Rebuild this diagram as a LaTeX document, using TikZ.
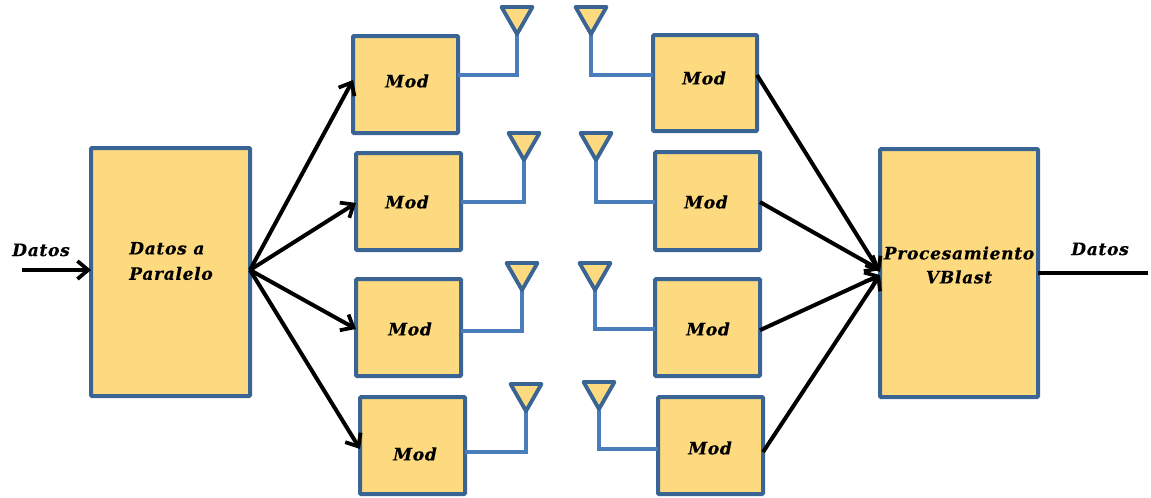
\documentclass[tikz,border=0pt]{standalone}
\usepackage{fontspec}
\setmainfont{DejaVu Serif}[LetterSpace=4,BoldItalicFeatures={FakeBold=0.3}]
\usetikzlibrary{arrows.meta}
\definecolor{boxfill}{HTML}{FDDA80}
\definecolor{boxline}{HTML}{3A6494}
\definecolor{wire}{HTML}{4A7EBB}
\tikzset{
  x=0.75pt,y=-0.75pt,
  boxnode/.style={draw=boxline,fill=boxfill,line width=3pt,rounded corners=0.8pt,inner sep=0pt,outer sep=0pt},
  lbl/.style={font=\fontsize{12.8}{18}\selectfont\bfseries\itshape,align=center,inner sep=0pt,text=black},
  ant/.style={draw=boxline,fill=boxfill,line width=2.9pt,line join=round},
  wireline/.style={draw=wire,line width=2.4pt,line join=miter},
  arrowline/.style={draw=black,line width=3pt,-{Straight Barb[length=8pt,width=13.5pt,line width=2.8pt]}},
  plainline/.style={draw=black,line width=3pt}
}
% name, x0, y0, x1, y1
\newcommand{\blockbox}[5]{%
  \pgfmathsetmacro{\bw}{(#4-#2)*0.75}\pgfmathsetmacro{\bh}{(#5-#3)*0.75}%
  \node[boxnode,anchor=north west,minimum width=\bw pt,minimum height=\bh pt] (#1) at (#2,#3) {};}
% name, apex x, apex y
\newcommand{\antenna}[3]{%
  \coordinate (#1) at (#2,#3);
  \draw[ant] (#2,#3) -- ++(-15.5,-27) -- ++(31,0) -- cycle;}
\begin{document}
\begin{tikzpicture}
\useasboundingbox (0,0) rectangle (1151,497);
\coordinate (wa1) at (517,75);\coordinate (wb1) at (591,75);
\coordinate (wa2) at (524,202);\coordinate (wb2) at (596,202);
\coordinate (wa3) at (522,331);\coordinate (wb3) at (595,329);
\coordinate (wa4) at (526,452);\coordinate (wb4) at (599,449);
% big blocks
\blockbox{dp}{91}{148}{250}{396}
\blockbox{vb}{880}{149}{1038}{397}
% tx blocks
\blockbox{t1}{353}{36}{458}{133}
\blockbox{t2}{356}{153}{461}{250}
\blockbox{t3}{356}{279}{461}{376}
\blockbox{t4}{360}{397}{465}{494}
% rx blocks
\blockbox{r1}{653}{35}{757}{131}
\blockbox{r2}{655}{152}{760}{250}
\blockbox{r3}{655}{279}{760}{376}
\blockbox{r4}{658}{397}{763}{494}
% antenna apexes
\coordinate (ta1) at (517,34);\coordinate (tb1) at (591,34);
\coordinate (ta2) at (524,160);\coordinate (tb2) at (596,160);
\coordinate (ta3) at (522,290);\coordinate (tb3) at (595,290);
\coordinate (ta4) at (526,411);\coordinate (tb4) at (599,409);
% wires
\draw[wireline] (wa1 -| t1.east) -- (wa1) -- (ta1);
\draw[wireline] (tb1) -- (wb1) -- (wb1 -| r1.west);
\draw[wireline] (wa2 -| t2.east) -- (wa2) -- (ta2);
\draw[wireline] (tb2) -- (wb2) -- (wb2 -| r2.west);
\draw[wireline] (wa3 -| t3.east) -- (wa3) -- (ta3);
\draw[wireline] (tb3) -- (wb3) -- (wb3 -| r3.west);
\draw[wireline] (wa4 -| t4.east) -- (wa4) -- (ta4);
\draw[wireline] (tb4) -- (wb4) -- (wb4 -| r4.west);
% antennas
\antenna{aa1}{517}{34}\antenna{ab1}{591}{34}
\antenna{aa2}{524}{160}\antenna{ab2}{596}{160}
\antenna{aa3}{522}{290}\antenna{ab3}{595}{290}
\antenna{aa4}{526}{411}\antenna{ab4}{599}{409}
% labels
\node[lbl,align=left,font=\fontsize{12.8}{19}\selectfont\bfseries\itshape] (ldp) at (171,261) {Datos a\\Paralelo};
\node[lbl] (lvb) at (959,265) {Procesamiento\\VBlast};
\node[lbl] (lin) at (41,250) {Datos};
\node[lbl] (lout) at (1100,249) {Datos};
\node[lbl] (lt1) at (407,81) {Mod};
\node[lbl] (lt2) at (407,202) {Mod};
\node[lbl] (lt3) at (410,329) {Mod};
\node[lbl] (lt4) at (415,454) {Mod};
\node[lbl] (lr1) at (704,78) {Mod};
\node[lbl] (lr2) at (706,202) {Mod};
\node[lbl] (lr3) at (708,329) {Mod};
\node[lbl] (lr4) at (710,448) {Mod};
% connectors
\coordinate (src) at (22,270);
\coordinate (sink) at (1148,273);
\coordinate (fan) at (250,270);
\draw[arrowline] (src) -- (src -| dp.west);
\draw[arrowline] (fan) -- ([yshift=3.4pt]t1.west);
\draw[arrowline] (fan) -- ([yshift=-1.1pt]t2.west);
\draw[arrowline] (fan) -- ([yshift=-1.1pt]t3.west);
\draw[arrowline] (fan) -- ([yshift=-2.6pt]t4.west);
\coordinate (m1) at (880,272);
\coordinate (m2) at (880,270);
\coordinate (m3) at (880,275);
\draw[arrowline] ([yshift=6pt]r1.east) -- (m1);
\draw[arrowline] ([yshift=-0.8pt]r2.east) -- (m2);
\draw[arrowline] ([yshift=-2pt]r3.east) -- (m3);
\draw[arrowline] ([yshift=-4.9pt]r4.east) -- (m3);
\draw[plainline] (sink -| vb.east) -- (sink);
\end{tikzpicture}
\end{document}
